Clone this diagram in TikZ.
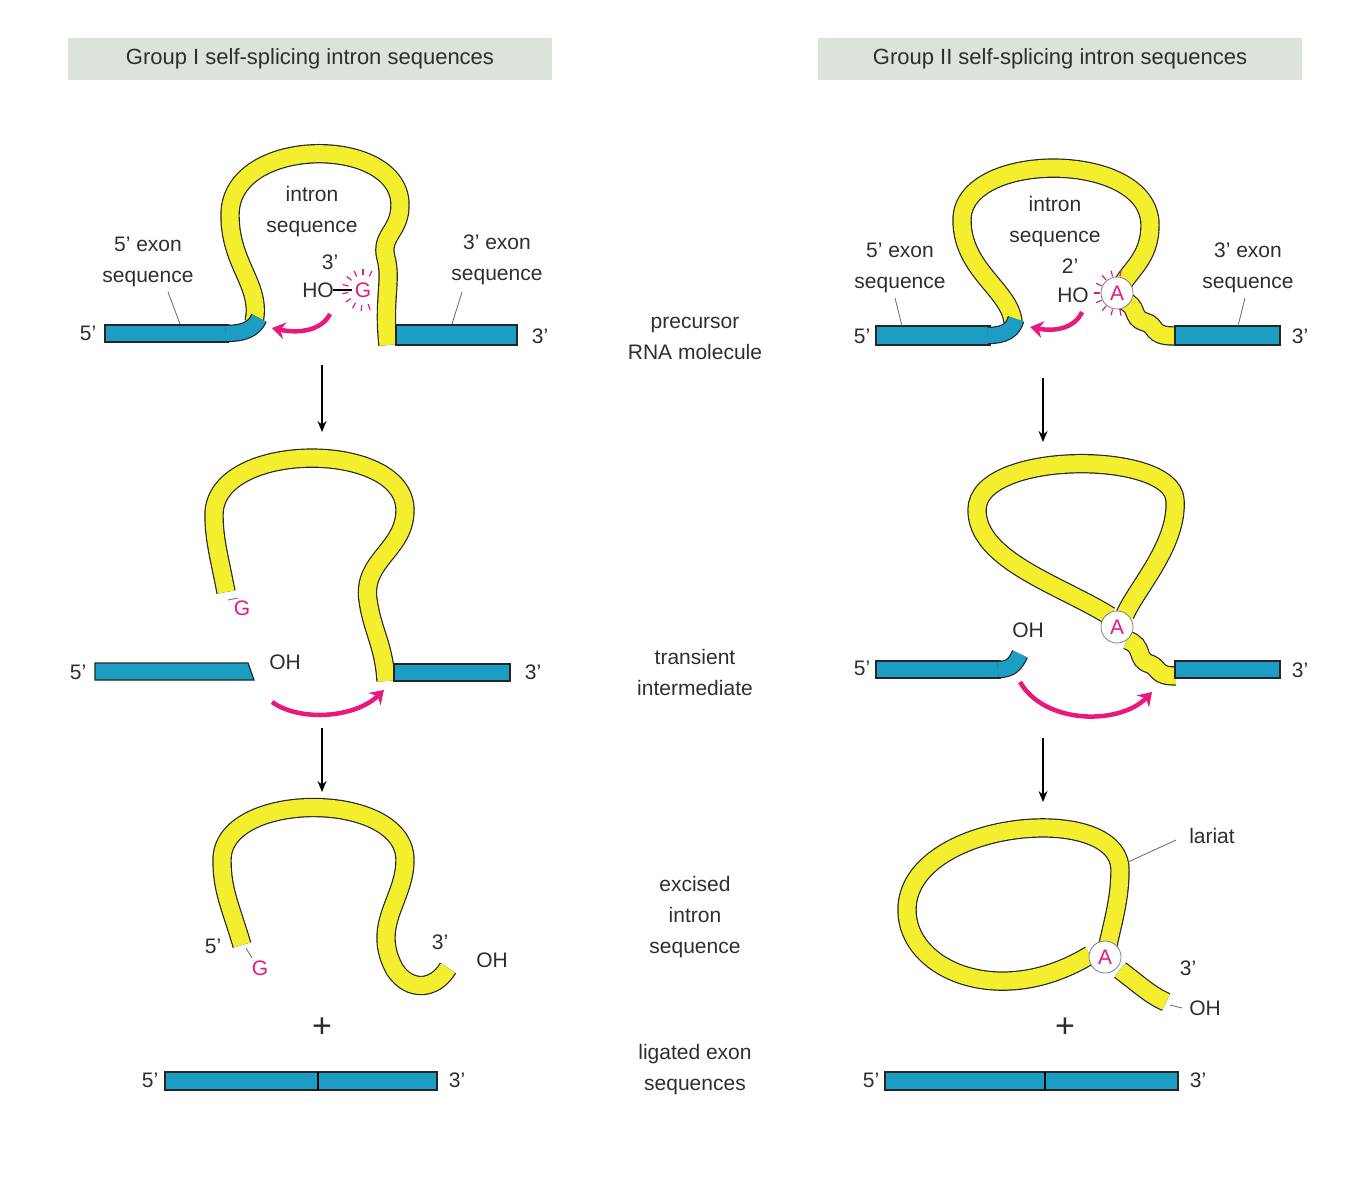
\documentclass[tikz,border=0pt]{standalone}
\usepackage{fontspec}
\setmainfont{Liberation Sans}
\usetikzlibrary{arrows.meta,calc}
\definecolor{yel}{HTML}{F4EF2E}
\definecolor{exb}{HTML}{1C9DC3}
\definecolor{pnk}{HTML}{E8197C}
\definecolor{hdr}{HTML}{DCE3DA}
\definecolor{txt}{HTML}{2E2E2E}
\begin{document}
\begin{tikzpicture}[x=1pt,y=-1pt,
  tube/.style={draw=black!85,line width=1.2pt,double=yel,double distance=17pt},
  btube/.style={draw=black!85,line width=1.2pt,double=exb,double distance=15pt},
  exon/.style={fill=exb,draw=black!85,line width=1.2pt},
  lbl/.style={font=\fontsize{21}{31}\selectfont,text=txt,align=center,inner sep=1pt},
  plbl/.style={font=\fontsize{21}{31}\selectfont,text=pnk,inner sep=1pt},
  parr/.style={draw=pnk,line width=4.5pt,-{Stealth[length=13pt,width=17pt]}},
  darr/.style={draw=black,line width=1.5pt,-{Stealth[length=11pt,width=9pt]}},
  lead/.style={draw=black!60,line width=0.8pt},
  circA/.style={circle,fill=white,draw=black!50,line width=0.8pt,minimum size=32pt,inner sep=0pt,text=pnk,font=\fontsize{21}{24}\selectfont}]
\useasboundingbox (0,0) rectangle (1360,1200);
% headers
\node[fill=hdr,minimum width=484pt,minimum height=42pt,font=\fontsize{22}{24}\selectfont,text=txt] (h1) at (310,59) {Group I self-splicing intron sequences};
\node[fill=hdr,minimum width=484pt,minimum height=42pt,font=\fontsize{22}{24}\selectfont,text=txt] (h2) at (1060,59) {Group II self-splicing intron sequences};
% middle labels
\node[lbl] (m1) at (695,338) {precursor\\RNA molecule};
\node[lbl] (m2) at (695,672) {transient\\intermediate};
\node[lbl] (m3) at (695,917) {excised\\intron\\sequence};
\node[lbl] (m4) at (695,1070) {ligated exon\\sequences};
% arrows
\coordinate (a1) at (322,365); \coordinate (a2) at (322,432);
\coordinate (a3) at (322,728); \coordinate (a4) at (322,792);
\coordinate (a5) at (1043,378); \coordinate (a6) at (1043,442);
\coordinate (a7) at (1043,738); \coordinate (a8) at (1043,802);
\draw[darr] (a1)--(a2); \draw[darr] (a3)--(a4);
\draw[darr] (a5)--(a6); \draw[darr] (a7)--(a8);

% ===== Group I precursor
\draw[tube] (254,322) .. controls (262,285) and (230,265) .. (230,215) .. controls (230,135) and (400,135) .. (400,205) .. controls (400,232) and (380,235) .. (386,258) .. controls (392,280) and (383,300) .. (388,345);
\draw[exon] (105,325) rectangle (228,342);
\draw[btube] (226,333.5) .. controls (242,333.5) and (254,330) .. (259,318);
\draw[exon] (396,325) rectangle (517,345);
\node[lbl] (l5e) at (148,262) {5' exon\\sequence};
\draw[lead] (168,292)--(180,324);
\node[lbl] (lin) at (312,212) {intron\\sequence};
\node[lbl] (l3e) at (497,260) {3' exon\\sequence};
\draw[lead] (462,292)--(452,324);
\node[lbl] (p5) at (88,333) {5'};
\node[lbl] (p3) at (540,336) {3'};
\node[lbl] (l3p) at (330,262) {3'};
\node[lbl] (lho) at (318,290) {HO};
\node[plbl] (lg) at (363,290) {G};
\draw[line width=2pt,black] (333,290)--(352,290);
\foreach \a in {70,95,...,300} \draw[pnk,line width=1.2pt] ($(363,290)+(\a:15)$)--($(363,290)+(\a:21)$);
\coordinate (pa1) at (330,314); \coordinate (pa2) at (272,328);
\draw[parr] (pa1) .. controls (322,330) and (300,334) .. (pa2);

% ===== Group I intermediate
\draw[tube] (226,592) .. controls (220,560) and (214,540) .. (214,515) .. controls (214,440) and (405,440) .. (405,510) .. controls (405,550) and (362,560) .. (368,600) .. controls (372,630) and (384,645) .. (386,681);
\draw[exon] (95,663) -- (248,663) -- (254,680) -- (95,680) -- cycle;
\draw[exon] (394,664) rectangle (510,681);
\node[plbl] (g2) at (242,608) {G};
\draw[lead] (228,600)--(238,598);
\node[lbl] (oh2) at (285,662) {OH};
\node[lbl] (i5) at (78,672) {5'};
\node[lbl] (i3) at (533,672) {3'};
\coordinate (pb1) at (272,702); \coordinate (pb2) at (384,690);
\draw[parr] (pb1) .. controls (300,722) and (355,718) .. (pb2);

% ===== Group I excised
\draw[tube] (242,945) .. controls (230,905) and (222,890) .. (222,860) .. controls (222,790) and (405,790) .. (405,860) .. controls (405,900) and (370,925) .. (395,970) .. controls (410,992) and (435,990) .. (448,968);
\node[lbl] (e5) at (213,946) {5'};
\node[plbl] (eg) at (260,968) {G};
\draw[lead] (246,948)--(252,958);
\node[lbl] (e3) at (440,942) {3'};
\node[lbl] (eoh) at (492,960) {OH};
\node[font=\fontsize{34}{34}\selectfont,text=txt] (plus1) at (322,1028) {+};
\draw[exon] (165,1072) rectangle (437,1090);
\draw[line width=1.2pt] (318,1072)--(318,1090);
\node[lbl] (f5) at (150,1080) {5'};
\node[lbl] (f3) at (457,1080) {3'};

% ===== Group II precursor
\draw[tube] (1013,322) .. controls (1010,290) and (962,270) .. (962,220) .. controls (962,150) and (1150,150) .. (1150,225) .. controls (1150,260) and (1128,270) .. (1118,292);
\draw[tube] (1122,300) .. controls (1140,306) and (1130,318) .. (1145,322) .. controls (1158,326) and (1150,336) .. (1174,336);
\draw[exon] (876,326) rectangle (990,345);
\draw[btube] (988,335.5) .. controls (1005,335.5) and (1013,330) .. (1016,319);
\draw[exon] (1175,326) rectangle (1280,345);
\foreach \a in {80,105,...,300} \draw[pnk,line width=1.2pt] ($(1117,293)+(\a:17)$)--($(1117,293)+(\a:23)$);
\node[circA] (A1) at (1117,293) {A};
\node[lbl] (r5e) at (900,268) {5' exon\\sequence};
\draw[lead] (895,298)--(902,326);
\node[lbl] (rin) at (1055,222) {intron\\sequence};
\node[lbl] (r2) at (1070,266) {2'};
\node[lbl] (rho) at (1073,295) {HO};
\node[lbl] (r3e) at (1248,268) {3' exon\\sequence};
\draw[lead] (1245,298)--(1238,326);
\node[lbl] (q5) at (862,336) {5'};
\node[lbl] (q3) at (1300,336) {3'};
\coordinate (pc1) at (1082,312); \coordinate (pc2) at (1030,327);
\draw[parr] (pc1) .. controls (1075,328) and (1055,332) .. (pc2);

% ===== Group II intermediate
\draw[tube] (1110,616) .. controls (1060,585) and (977,560) .. (977,510) .. controls (977,450) and (1172,450) .. (1175,500) .. controls (1178,545) and (1135,590) .. (1125,615);
\draw[tube] (1127,640) .. controls (1145,646) and (1135,660) .. (1150,664) .. controls (1160,668) and (1155,676) .. (1176,676);
\draw[exon] (876,661) rectangle (1000,678);
\draw[btube] (998,669.5) .. controls (1010,669.5) and (1015,665) .. (1020,654);
\draw[exon] (1175,661) rectangle (1280,678);
\node[circA] (A2) at (1117,627) {A};
\node[lbl] (roh) at (1028,630) {OH};
\node[lbl] (j5) at (862,668) {5'};
\node[lbl] (j3) at (1300,670) {3'};
\coordinate (pd1) at (1020,682); \coordinate (pd2) at (1152,692);
\draw[parr] (pd1) .. controls (1045,725) and (1120,725) .. (pd2);

% ===== Group II excised
\draw[tube] (1090,955) .. controls (1000,1010) and (907,970) .. (907,910) .. controls (907,820) and (1120,800) .. (1120,870) .. controls (1120,900) and (1112,925) .. (1108,945);
\draw[tube] (1120,970) .. controls (1140,985) and (1150,995) .. (1166,1002);
\node[circA] (A3) at (1105,957) {A};
\node[lbl] (lar) at (1212,836) {lariat};
\draw[lead] (1176,840)--(1128,862);
\node[lbl] (x3) at (1188,968) {3'};
\node[lbl] (xoh) at (1205,1008) {OH};
\draw[lead] (1170,1005)--(1182,1008);
\node[font=\fontsize{34}{34}\selectfont,text=txt] (plus2) at (1065,1028) {+};
\draw[exon] (885,1072) rectangle (1178,1090);
\draw[line width=1.2pt] (1045,1072)--(1045,1090);
\node[lbl] (y5) at (871,1080) {5'};
\node[lbl] (y3) at (1198,1080) {3'};
\end{tikzpicture}
\end{document}
